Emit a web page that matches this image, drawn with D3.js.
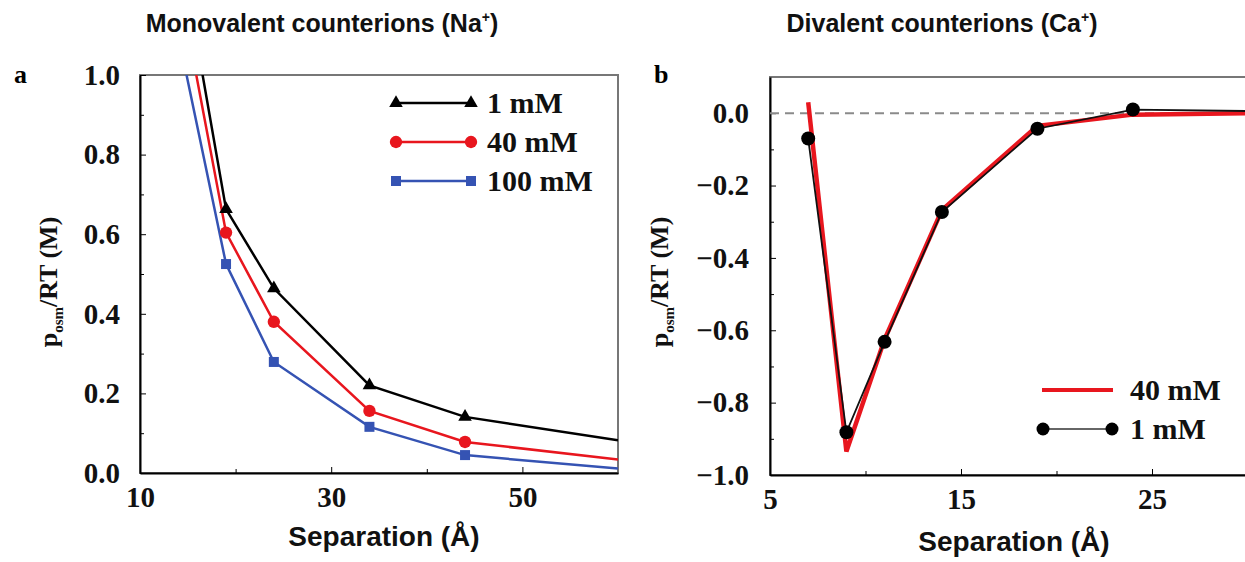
<!DOCTYPE html>
<html>
<head>
<meta charset="utf-8">
<script src="https://cdn.jsdelivr.net/npm/d3@7"></script>
<style>
  body { margin: 0; background: #fff; }
</style>
</head>
<body>
<div id="chart-area"></div>
<script>
// panel a: monovalent (Na+), separation in Å, p_osm/RT in M
const sepA = [14, 19, 24, 34, 44, 60]
const na1 = [1.35, 0.663, 0.464, 0.22, 0.141, 0.082]
const na40 = [1.24, 0.604, 0.38, 0.156, 0.078, 0.034]
const na100 = [1.10, 0.525, 0.279, 0.116, 0.045, 0.011]
const markedA = [19, 24, 34, 44]

// panel b: divalent (Ca+)
const sepB = [7, 9, 11, 14, 19, 24, 30]
const ca1 = [-0.07, -0.882, -0.632, -0.273, -0.043, 0.01, 0.006]
const ca40 = [0.03, -0.935, -0.625, -0.268, -0.035, -0.004, 0.0]
const markedB = [7, 9, 11, 14, 19, 24]

const yTicksA = [0, 0.2, 0.4, 0.6, 0.8, 1.0]
const xTicksA = [10, 30, 50]
const yTicksB = [-1.0, -0.8, -0.6, -0.4, -0.2, 0.0]
const xTicksB = [5, 15, 25]

const W = 1245, H = 562
const RED = "#e8161e", BLUE = "#3553b3"
const serif = "'Liberation Serif', 'Times New Roman', serif"
const sans = "'Liberation Sans', Arial, sans-serif"

const svg = d3.select("#chart-area").append("svg")
    .attr("width", W)
    .attr("height", H)

// scales
const xA = d3.scaleLinear().domain([10, 60]).range([140, 618])
const yA = d3.scaleLinear().domain([0, 1]).range([473, 75])
const xB = d3.scaleLinear().domain([5, 30]).range([770, 1247.5])
const yB = d3.scaleLinear().domain([-1, 0.1]).range([475, 77])

svg.append("clipPath").attr("id", "clipA")
    .append("rect")
    .attr("x", xA(10)).attr("y", yA(1))
    .attr("width", xA(60) - xA(10)).attr("height", yA(0) - yA(1))

const tickFont = g => g.selectAll("text")
    .attr("font-family", serif)
    .attr("font-weight", "bold")
    .attr("font-size", "29px")
    .attr("fill", "#111")

function axes(x, y, yMajor, yMinor, xMajor, xMinor, yFmt, yPad) {
    const [x0, x1] = x.range()
    const [y0, y1] = y.range()
    // gray frame
    svg.append("rect")
        .attr("x", x0).attr("y", y1)
        .attr("width", x1 - x0).attr("height", y0 - y1)
        .attr("fill", "none").attr("stroke", "#777").attr("stroke-width", 2)

    svg.append("g")
        .attr("transform", `translate(${x0},0)`)
        .call(d3.axisLeft(y).tickValues(yMinor).tickSize(-4).tickFormat("").tickSizeOuter(0))
        .call(g => g.select(".domain").remove())
    svg.append("g")
        .attr("transform", `translate(${x0},0)`)
        .call(d3.axisLeft(y).tickValues(yMajor).tickSize(-6).tickPadding(yPad).tickSizeOuter(0).tickFormat(yFmt))
        .call(g => g.select(".domain").attr("stroke-width", 2))
        .call(tickFont)

    svg.append("g")
        .attr("transform", `translate(0,${y0})`)
        .call(d3.axisBottom(x).tickValues(xMinor).tickSize(-4).tickFormat("").tickSizeOuter(0))
        .call(g => g.select(".domain").remove())
    svg.append("g")
        .attr("transform", `translate(0,${y0})`)
        .call(d3.axisBottom(x).tickValues(xMajor).tickSize(-6).tickPadding(13).tickSizeOuter(0).tickFormat(d3.format("d")))
        .call(g => g.select(".domain").attr("stroke-width", 2))
        .call(tickFont)
}

axes(xA, yA, yTicksA, [0.1, 0.3, 0.5, 0.7, 0.9], xTicksA, [20, 40],
    d3.format(".1f"), 20)
axes(xB, yB, yTicksB, [-0.9, -0.7, -0.5, -0.3, -0.1], xTicksB, [10, 20],
    d => d3.format(".1f")(d).replace("-", "\u2212"), 21)

// titles
function title(x, y, main, sup) {
    const t = svg.append("text")
        .attr("x", x).attr("y", y)
        .attr("text-anchor", "middle")
        .attr("font-family", sans).attr("font-weight", "bold").attr("font-size", "25px")
        .attr("fill", "#111")
    t.append("tspan").text(main)
    t.append("tspan").attr("dy", -10).attr("font-size", "14px").text(sup)
    t.append("tspan").attr("dy", 10).text(")")
}
title(322, 32, "Monovalent counterions (Na", "+")
title(942, 32, "Divalent counterions (Ca", "+")

// panel letters
svg.append("text").attr("x", 14).attr("y", 83).text("a")
    .attr("font-family", serif).attr("font-weight", "bold").attr("font-size", "26px")
svg.append("text").attr("x", 654).attr("y", 83).text("b")
    .attr("font-family", serif).attr("font-weight", "bold").attr("font-size", "26px")

// axis labels
function xLabel(x, y) {
    svg.append("text")
        .attr("x", x).attr("y", y)
        .attr("text-anchor", "middle")
        .attr("font-family", sans).attr("font-weight", "bold").attr("font-size", "28px")
        .attr("fill", "#111")
        .text("Separation (\u00c5)")
}
xLabel(384, 546)
xLabel(1014, 551)

function yLabel(x, y) {
    const t = svg.append("text")
        .attr("transform", `translate(${x},${y}) rotate(-90)`)
        .attr("text-anchor", "middle")
        .attr("font-family", serif).attr("font-weight", "bold").attr("font-size", "26px")
        .attr("fill", "#111")
    t.append("tspan").text("p")
    t.append("tspan").attr("dy", 6).attr("font-size", "15px").text("osm")
    t.append("tspan").attr("dy", -6).text("/RT (M)")
}
yLabel(57, 282)
yLabel(668, 282)

// panel a lines
const seriesA = [
    {name: "1 mM", values: na1, color: "#000", sym: d3.symbolTriangle, size: 80},
    {name: "40 mM", values: na40, color: RED, sym: d3.symbolCircle, size: 120},
    {name: "100 mM", values: na100, color: BLUE, sym: d3.symbolSquare, size: 100}
]

const lineA = d3.line()
    .x(d => xA(d[0]))
    .y(d => yA(d[1]))

const gA = svg.append("g").attr("clip-path", "url(#clipA)")
seriesA.slice().reverse().forEach(s => {
    const pts = sepA.map((v, i) => [v, s.values[i]])
    gA.append("path")
        .datum(pts)
        .attr("d", lineA)
        .attr("fill", "none")
        .attr("stroke", s.color)
        .attr("stroke-width", 2.5)
    gA.selectAll(null)
        .data(pts.filter(p => markedA.includes(p[0])))
        .enter()
        .append("path")
        .attr("d", d3.symbol(s.sym, s.size))
        .attr("transform", d => `translate(${xA(d[0])},${yA(d[1])})`)
        .attr("fill", s.color)
})

// legend a
seriesA.forEach((s, i) => {
    const ly = 103 + i * 39
    const lg = svg.append("g")
    lg.append("line")
        .attr("x1", 396).attr("x2", 471).attr("y1", ly).attr("y2", ly)
        .attr("stroke", s.color).attr("stroke-width", 2.5)
    ;[396, 471].forEach(px => {
        lg.append("path")
            .attr("d", d3.symbol(s.sym, s.size))
            .attr("transform", `translate(${px},${ly})`)
            .attr("fill", s.color)
    })
    lg.append("text")
        .attr("x", 487).attr("y", ly + 10)
        .attr("font-family", serif).attr("font-weight", "bold").attr("font-size", "30px")
        .attr("fill", "#111")
        .text(s.name)
})

// panel b
svg.append("line")
    .attr("x1", xB(5)).attr("x2", xB(30))
    .attr("y1", yB(0)).attr("y2", yB(0))
    .attr("stroke", "#8a8a8a").attr("stroke-width", 2)
    .attr("stroke-dasharray", "9,6")

const lineB = d3.line()
    .x(d => xB(d[0]))
    .y(d => yB(d[1]))

svg.append("path")
    .datum(sepB.map((v, i) => [v, ca40[i]]))
    .attr("d", lineB)
    .attr("fill", "none")
    .attr("stroke", RED)
    .attr("stroke-width", 4.5)

const ptsB = sepB.map((v, i) => [v, ca1[i]])
svg.append("path")
    .datum(ptsB)
    .attr("d", lineB)
    .attr("fill", "none")
    .attr("stroke", "#111")
    .attr("stroke-width", 1.8)

svg.selectAll(null)
    .data(ptsB.filter(p => markedB.includes(p[0])))
    .enter()
    .append("circle")
    .attr("cx", d => xB(d[0]))
    .attr("cy", d => yB(d[1]))
    .attr("r", 7)
    .attr("fill", "#000")

// legend b
svg.append("line")
    .attr("x1", 1042).attr("x2", 1113).attr("y1", 390).attr("y2", 390)
    .attr("stroke", RED).attr("stroke-width", 4)
svg.append("text")
    .attr("x", 1130).attr("y", 400)
    .attr("font-family", serif).attr("font-weight", "bold").attr("font-size", "30px")
    .attr("fill", "#111")
    .text("40 mM")
svg.append("line")
    .attr("x1", 1043).attr("x2", 1112).attr("y1", 429).attr("y2", 429)
    .attr("stroke", "#333").attr("stroke-width", 1.5)
;[1043, 1112].forEach(px => {
    svg.append("circle").attr("cx", px).attr("cy", 429).attr("r", 6.5).attr("fill", "#000")
})
svg.append("text")
    .attr("x", 1130).attr("y", 439)
    .attr("font-family", serif).attr("font-weight", "bold").attr("font-size", "30px")
    .attr("fill", "#111")
    .text("1 mM")
</script>
</body>
</html>
